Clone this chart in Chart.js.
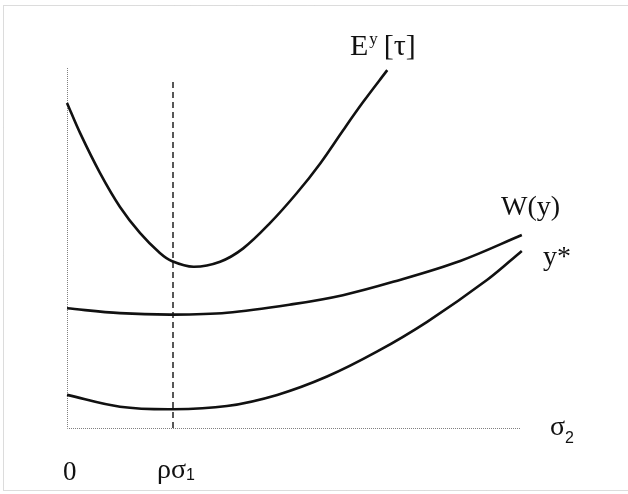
<!DOCTYPE html>
<html>
<head>
<meta charset="utf-8">
<script src="https://cdn.jsdelivr.net/npm/chart.js@4"></script>
<style>
  html, body { margin: 0; padding: 0; background: #fff; }
  canvas { display: block; }
</style>
</head>
<body>
<canvas id="chart" width="628" height="494"></canvas>
<script>
// ── Data (x: σ2, y: value, both in 0..100 schematic units) ──
const eyX    = [0, 2.9, 7.3, 11.7, 16.1, 20.5, 23.1, 27.9, 33.8, 38.9, 44.8, 50.7, 55.9, 61.0, 65.4, 70.7];
const eyY    = [90.3, 81.9, 70.8, 61.4, 54.2, 48.6, 46.4, 44.8, 46.2, 49.9, 56.9, 65.2, 73.5, 82.8, 90.6, 99.4];
const wX     = [0, 11.7, 23.4, 35.3, 49.9, 60.9, 72.0, 86.8, 100.4];
const wY     = [33.25, 31.9, 31.5, 32.0, 34.4, 36.9, 40.6, 46.4, 53.6];
const ystarX = [0, 11.7, 23.4, 35.3, 46.4, 57.4, 68.4, 79.5, 92.7, 100.4];
const ystarY = [9.2, 5.9, 5.2, 6.1, 9.2, 14.3, 21.2, 29.5, 41.1, 49.2];
const rhoSigma1 = 23.4;
const dashTop   = 96.9;
const axisMax   = 100;

const toPts = (xs, ys) => xs.map((x, i) => ({ x, y: ys[i] }));

// ── Labels drawn on top ───────────────────────────────────
const serif = '"Liberation Serif", "Times New Roman", serif';
const sans  = '"Liberation Sans", Arial, sans-serif';

function drawRich(ctx, parts, x, y) {
  let cx = x;
  parts.forEach(p => {
    ctx.font = p.font;
    ctx.fillText(p.t, cx, y + (p.dy || 0));
    cx += ctx.measureText(p.t).width + (p.gap || 0);
  });
}

const decor = {
  id: 'decor',
  beforeDatasetsDraw(chart) {
    const { ctx, scales: { x, y } } = chart;
    const x0 = x.getPixelForValue(0), y0 = y.getPixelForValue(0);
    ctx.save();
    // frame
    ctx.strokeStyle = '#b8b8b8';
    ctx.lineWidth = 1;
    ctx.setLineDash([1, 1]);
    ctx.beginPath();
    ctx.moveTo(627.5, 5.5); ctx.lineTo(3.5, 5.5); ctx.lineTo(3.5, 490.5); ctx.lineTo(627.5, 490.5);
    ctx.stroke();
    // axes
    ctx.strokeStyle = '#808080';
    ctx.beginPath();
    ctx.moveTo(x0 + 0.5, y.getPixelForValue(axisMax));
    ctx.lineTo(x0 + 0.5, y0 + 0.5);
    ctx.lineTo(x.getPixelForValue(axisMax), y0 + 0.5);
    ctx.stroke();
    ctx.restore();
  },
  afterDatasetsDraw(chart) {
    const { ctx } = chart;
    ctx.save();
    ctx.fillStyle = '#111';
    ctx.textBaseline = 'alphabetic';
    drawRich(ctx, [
      { t: 'E', font: `30px ${serif}`, gap: 1 },
      { t: 'y', font: `17px ${serif}`, dy: -11, gap: 6 },
      { t: '[τ]', font: `30px ${serif}` },
    ], 350, 55);
    drawRich(ctx, [{ t: 'W(y)', font: `28px ${serif}` }], 501, 215);
    drawRich(ctx, [{ t: 'y*', font: `28px ${serif}` }], 543, 265);
    drawRich(ctx, [
      { t: 'σ', font: `28px ${serif}` },
      { t: '2', font: `16px ${sans}`, dy: 8 },
    ], 550, 435);
    drawRich(ctx, [{ t: '0', font: `27px ${serif}` }], 63, 480);
    drawRich(ctx, [
      { t: 'ρσ', font: `28px ${serif}` },
      { t: '1', font: `16px ${sans}`, dy: 2 },
    ], 157, 478);
    ctx.restore();
  },
};

const curve = (data) => ({
  data,
  borderColor: '#111',
  borderWidth: 2.6,
  pointRadius: 0,
  tension: 0.35,
  clip: false,
});

new Chart(document.getElementById('chart'), {
  type: 'scatter',
  data: {
    datasets: [
      curve(toPts(eyX, eyY)),
      curve(toPts(wX, wY)),
      curve(toPts(ystarX, ystarY)),
      {
        data: [{ x: rhoSigma1, y: 0 }, { x: rhoSigma1, y: dashTop }],
        borderColor: '#111',
        borderWidth: 1.4,
        borderDash: [6, 4],
        pointRadius: 0,
        clip: false,
      },
    ],
  },
  options: {
    responsive: false,
    animation: false,
    showLine: true,
    layout: { padding: { left: 67, right: 108, top: 68, bottom: 66 } },
    scales: {
      x: { type: 'linear', min: 0, max: axisMax, display: false },
      y: { type: 'linear', min: 0, max: axisMax, display: false },
    },
    plugins: { legend: { display: false }, tooltip: { enabled: false } },
  },
  plugins: [decor],
});
</script>
</body>
</html>
